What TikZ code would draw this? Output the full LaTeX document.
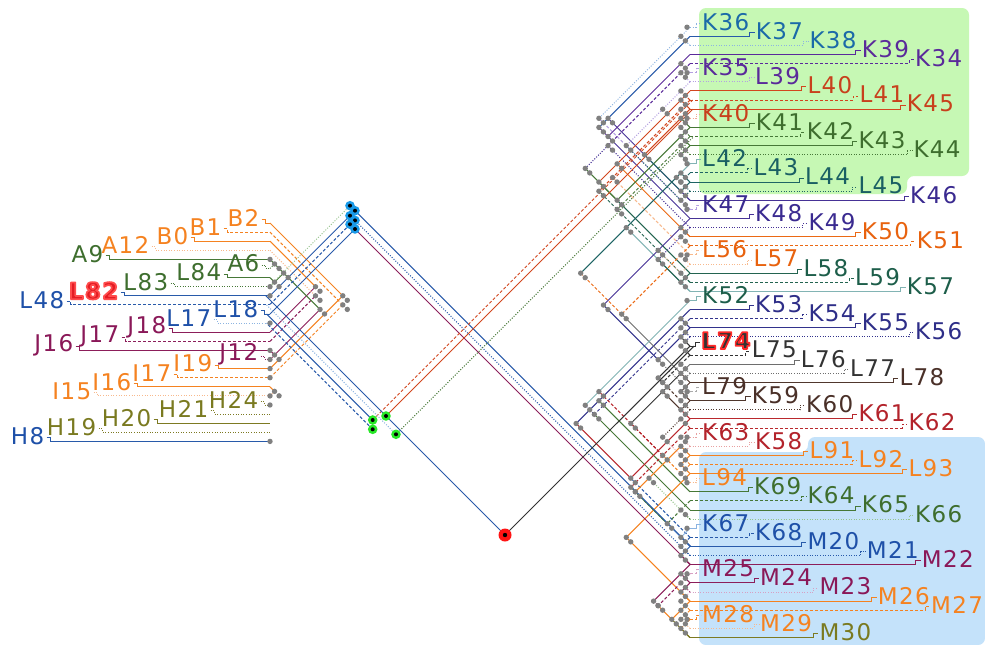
\documentclass[tikz,border=0pt]{standalone}
\usepackage{fontspec}
\setmainfont{DejaVu Sans}
\newfontfamily\labfont{DejaVu Sans}[LetterSpace=6]
\usetikzlibrary{calc}
\pgfdeclarelayer{bg}\pgfdeclarelayer{lines}\pgfdeclarelayer{dots}
\pgfsetlayers{bg,lines,dots,main}
% text colours
\definecolor{tBl}{RGB}{27,106,168}\definecolor{tPu}{RGB}{90,42,154}
\definecolor{tRd}{RGB}{200,64,28}\definecolor{tGn}{RGB}{62,110,46}
\definecolor{tTe}{RGB}{26,95,99}\definecolor{tIn}{RGB}{58,42,144}
\definecolor{tOr}{RGB}{232,98,14}\definecolor{tTg}{RGB}{29,94,74}
\definecolor{tNv}{RGB}{46,46,136}\definecolor{tDk}{RGB}{51,51,51}
\definecolor{tBr}{RGB}{74,48,40}\definecolor{tCr}{RGB}{179,35,43}
\definecolor{tOa}{RGB}{245,130,32}\definecolor{tBl2}{RGB}{30,80,168}
\definecolor{tMa}{RGB}{138,24,88}\definecolor{tOl}{RGB}{122,122,32}
\definecolor{tHr}{RGB}{228,28,36}
% line colours
\definecolor{cBl}{RGB}{40,90,170}\definecolor{cLb}{RGB}{140,180,225}
\definecolor{cPu}{RGB}{90,42,154}\definecolor{cLp}{RGB}{180,160,225}
\definecolor{cRd}{RGB}{210,70,30}\definecolor{cLr}{RGB}{240,170,150}
\definecolor{cGn}{RGB}{70,120,55}\definecolor{cLg}{RGB}{150,195,140}
\definecolor{cTe}{RGB}{30,100,100}\definecolor{cLt}{RGB}{130,180,180}
\definecolor{cIn}{RGB}{70,50,150}\definecolor{cOr}{RGB}{235,105,20}
\definecolor{cLo}{RGB}{248,185,140}\definecolor{cTg}{RGB}{35,100,80}
\definecolor{cNv}{RGB}{50,50,140}\definecolor{cDk}{RGB}{50,50,50}
\definecolor{cGy}{RGB}{110,110,110}\definecolor{cBr}{RGB}{80,55,45}
\definecolor{cLgr}{RGB}{170,170,170}\definecolor{cCr}{RGB}{185,40,45}
\definecolor{cLc}{RGB}{232,160,160}\definecolor{cOa}{RGB}{245,130,32}
\definecolor{cMa}{RGB}{140,30,90}\definecolor{cLm}{RGB}{215,160,195}
\definecolor{cOl}{RGB}{125,122,34}\definecolor{cDot}{RGB}{128,128,128}
\definecolor{bgG}{RGB}{198,248,180}\definecolor{bgB}{RGB}{196,226,250}
\definecolor{dotB}{RGB}{26,154,232}\definecolor{dotG}{RGB}{40,232,40}
\definecolor{dotR}{RGB}{255,20,20}
% plain label / glowing labels (glow = coloured outline stroke of the glyphs)
\newcommand\glownone[1]{#1}
\newcommand\glowR[1]{{\bfseries\special{pdf:literal direct 2 Tr 1.7 w 1 j 1 0.16 0.16 RG}#1\special{pdf:literal direct 0 Tr 0.4 w 0 j 0 0 0 RG}}}
\newcommand\glowL[1]{{\bfseries\special{pdf:literal direct 2 Tr 1.7 w 1 j 1 0.3 0.3 RG}#1\special{pdf:literal direct 0 Tr 0.4 w 0 j 0 0 0 RG}}}
% right-side join: node to the left of two children
\newcommand\RJ[5]{%
\path let \p1=(#2),\p2=(#3),\n1={(\y1-\y2+\x1-\x2)/2} in coordinate (#1) at ({\x1-\n1*1pt},{\y1-\n1*1pt});
\begin{pgfonlayer}{lines}\draw[#4] (#2) -- (#1);\draw[#5] (#3) -- (#1);\end{pgfonlayer}
\begin{pgfonlayer}{dots}\fill[gdot] (#1) circle (2.7pt);\fill[gdot] ([shift={(4.5pt,-4.5pt)}]#1) circle (2.7pt);\end{pgfonlayer}}
% left-side join: node to the right of two children
\newcommand\LJ[5]{%
\path let \p1=(#2),\p2=(#3),\n1={(\y1-\y2+\x2-\x1)/2} in coordinate (#1) at ({\x1+\n1*1pt},{\y1-\n1*1pt});
\begin{pgfonlayer}{lines}\draw[#4] (#2) -- (#1);\draw[#5] (#3) -- (#1);\end{pgfonlayer}
\begin{pgfonlayer}{dots}\fill[gdot] (#1) circle (2.7pt);\fill[gdot] ([shift={(4.5pt,-4.5pt)}]#1) circle (2.7pt);\end{pgfonlayer}}
\begin{document}
\begin{tikzpicture}[x=1pt,y=-1pt,
  sl/.style={line width=1pt},
  dsl/.style={line width=1pt,dash pattern=on 3pt off 2pt},
  dtl/.style={line width=1pt,dash pattern=on 1pt off 1.6pt},
  gdot/.style={fill=cDot},
  lab/.style={inner sep=0pt,font=\labfont\fontsize{23}{25}\selectfont}]
\useasboundingbox (0,0) rectangle (985,645);
\begin{pgfonlayer}{bg}
\fill[white] (0,0) rectangle (985,645);
\fill[bgG,rounded corners=7pt] (699,8) -- (969,8) -- (969,176) -- (907,176) -- (907,194) -- (699,194) -- cycle;
\fill[bgB,rounded corners=7pt] (699,452) -- (808,452) -- (808,437) -- (985,437) -- (985,645) -- (699,645) -- cycle;
\end{pgfonlayer}
% ---------------- right labels
\foreach \nm/\xx/\tc/\lp/\lcc/\hcc [count=\i from 0] in {
K36/702/tBl/dtl/cLb/none, K37/755.7/tBl/sl/cBl/none, K38/809.3/tBl/dtl/cLb/none,
K39/861.7/tPu/sl/cPu/none, K34/915/tPu/dsl/cPu/none,
K35/702/tPu/dsl/cLp/none, L39/755/tPu/dtl/cLp/none, L40/807.3/tRd/sl/cRd/none,
L41/859.3/tRd/dsl/cRd/none, K45/906.7/tRd/sl/cRd/none,
K40/702/tRd/dtl/cLr/none, K41/755.7/tGn/sl/cGn/none, K42/806.7/tGn/dsl/cGn/none,
K43/858.3/tGn/sl/cGn/none, K44/913.3/tGn/dtl/cGn/none,
L42/702/tTe/sl/cLt/none, L43/753.3/tTe/dsl/cTe/none, L44/805/tTe/sl/cTe/none,
L45/858.3/tTe/dtl/cTe/none, K46/910/tIn/sl/cIn/none,
K47/702/tIn/dsl/cLp/none, K48/755/tIn/sl/cIn/none, K49/808.3/tIn/dtl/cIn/none,
K50/861.7/tOr/sl/cOr/none, K51/916.7/tOr/dsl/cOr/none,
L56/702/tOr/dsl/cLo/none, L57/753.3/tOr/dtl/cLo/none, L58/803.3/tTg/sl/cTg/none,
L59/855/tTg/dsl/cTg/none, K57/906.7/tTg/sl/cLt/none,
K52/702/tTg/sl/cLt/none, K53/755/tNv/sl/cNv/none, K54/808.3/tNv/dsl/cNv/none,
K55/861.7/tNv/sl/cNv/none, K56/915/tNv/dtl/cNv/none,
L74/701/tDk/sl/cDk/R, L75/751.7/tDk/dsl/cDk/none, L76/800.7/tDk/sl/cGy/none,
L77/850/tDk/dtl/cGy/none, L78/899.3/tBr/sl/cBr/none,
L79/702/tBr/dsl/cLgr/none, K59/751.7/tBr/sl/cBr/none, K60/806/tBr/dtl/cBr/none,
K61/858.3/tCr/sl/cCr/none, K62/908.3/tCr/dsl/cCr/none,
K63/702/tCr/dtl/cLc/none, K58/755/tCr/dtl/cLc/none, L91/809.3/tOa/sl/cOa/none,
L92/858.3/tOa/dsl/cOa/none, L93/908.3/tOa/sl/cOa/none,
L94/702/tOa/dtl/cLo/none, K69/754/tGn/sl/cGn/none, K64/807.3/tGn/dsl/cGn/none,
K65/861.7/tGn/sl/cGn/none, K66/915/tGn/dtl/cLg/none,
K67/702/tBl2/sl/cLb/none, K68/755/tBl2/dsl/cBl/none, M20/807.3/tBl2/sl/cBl/none,
M21/866.7/tBl2/dtl/cBl/none, M22/921.7/tMa/sl/cMa/none,
M25/702/tMa/dsl/cLm/none, M24/760/tMa/sl/cMa/none, M23/819.3/tMa/dtl/cLm/none,
M26/877.7/tOa/sl/cOa/none, M27/931/tOa/dsl/cOa/none,
M28/702/tOa/dsl/cOa/none, M29/760/tOa/dtl/cLo/none, M30/819.3/tOl/sl/cOl/none}
{
  \coordinate (ra\i) at (690,{27.2+9.11*\i});
  \node[lab,anchor=west,text=\tc] (r\nm) at (\xx,{21.7+9.11*\i}) {\csname glow\hcc\endcsname{\nm}};
  \begin{pgfonlayer}{lines}
  \draw[\lp,\lcc] (ra\i) -| ([shift={(-6pt,-1.5pt)}]r\nm.west) -- ([shift={(-1pt,-1.5pt)}]r\nm.west);
  \end{pgfonlayer}
}
% ---------------- left labels
\foreach \nm/\xx/\tc/\lp/\lcc/\hcc [count=\j from 0] in {
B2/258/tOa/sl/cOa/none, B1/220/tOa/dsl/cOa/none, B0/187/tOa/sl/cOa/none,
A12/148/tOa/dtl/cLo/none, A9/102/tGn/sl/cGn/none,
A6/258/tGn/dtl/cGn/none, L84/220/tGn/sl/cGn/none, L83/167/tGn/dtl/cGn/none,
L82/117/tHr/sl/cBl/L, L48/63/tBl2/dsl/cBl/none,
L18/257/tBl2/sl/cBl/none, L17/210/tBl2/dtl/cLb/none, J18/165/tMa/sl/cMa/none,
J17/118/tMa/dsl/cMa/none, J16/72/tMa/sl/cMa/none,
J12/257/tMa/dtl/cMa/none, I19/211/tOa/sl/cOa/none, I17/170/tOa/dsl/cOa/none,
I16/130/tOa/sl/cOa/none, I15/90/tOa/dtl/cLo/none,
H24/257/tOl/dtl/cOl/none, H21/207/tOl/dtl/cOl/none, H20/150/tOl/sl/cOl/none,
H19/95/tOl/dtl/cOl/none, H8/43/tBl2/sl/cBl/none}
{
  \coordinate (la\j) at (270,{223+9.1*\j});
  \node[lab,anchor=east,text=\tc] (l\nm) at ({\xx+1.5},{218+9.1*\j}) {\csname glow\hcc\endcsname{\nm}};
  \begin{pgfonlayer}{lines}
  \draw[\lp,\lcc] ([shift={(2pt,-1.5pt)}]l\nm.east) -- ([shift={(6pt,-1.5pt)}]l\nm.east) |- (la\j);
  \end{pgfonlayer}
}
% ---------------- right web
\RJ{ja1}{ra0}{ra2}{dtl,cLb}{dtl,cLb}
\RJ{ja2}{ra1}{ra19}{sl,cBl}{sl,cIn}
\RJ{ja3}{ja1}{ra20}{dtl,cLb}{dsl,cLp}
\RJ{jb1}{ra3}{ra5}{sl,cPu}{dsl,cLp}
\RJ{jb2}{ra4}{ra6}{dsl,cPu}{dtl,cLp}
\RJ{jb3}{jb1}{ra21}{sl,cPu}{sl,cIn}
\RJ{jb4}{jb2}{ra22}{dsl,cPu}{dtl,cIn}
\RJ{jc1}{ra7}{ra9}{sl,cRd}{sl,cRd}
\RJ{jc2}{ra8}{ra10}{dsl,cRd}{dtl,cLr}
\RJ{jc3}{jc1}{ra23}{sl,cRd}{sl,cOr}
\RJ{jc4}{jc2}{ra25}{dsl,cRd}{dsl,cLo}
\RJ{jc5}{ra24}{ra26}{dsl,cOr}{dtl,cLo}
\RJ{jd1}{ra11}{ra13}{sl,cGn}{sl,cGn}
\RJ{jd2}{ra12}{ra14}{dsl,cGn}{dtl,cGn}
\RJ{jd3}{ra15}{ra17}{sl,cLt}{sl,cTe}
\RJ{jd4}{ra16}{ra18}{dsl,cTe}{dtl,cTe}
\RJ{jd5}{jd1}{ra27}{sl,cGn}{sl,cTg}
\RJ{jd6}{jd2}{ra28}{dsl,cGn}{dsl,cTg}
\RJ{jd7}{jd3}{jd4}{sl,cTe}{dsl,cTe}
\RJ{jd8}{jd7}{ra29}{sl,cTe}{sl,cLt}
\RJ{je1}{ra31}{ra33}{sl,cNv}{sl,cNv}
\RJ{je2}{ra32}{ra34}{dsl,cNv}{dtl,cNv}
\RJ{je3}{je1}{ra51}{sl,cNv}{sl,cGn}
\RJ{je4}{je2}{ra53}{dsl,cNv}{sl,cGn}
\RJ{jf1}{ra36}{ra38}{dsl,cDk}{dtl,cGy}
\RJ{jf2}{ra37}{ra39}{sl,cGy}{sl,cBr}
\RJ{jf3}{ra40}{ra42}{dsl,cLgr}{dtl,cBr}
\RJ{jf4}{ra41}{ra43}{sl,cBr}{sl,cCr}
\RJ{jf5}{jf1}{jf3}{dsl,cDk}{dsl,cBr}
\RJ{jf6}{jf2}{jf4}{sl,cDk}{sl,cBr}
\RJ{jf7}{ra35}{jf5}{sl,cDk}{sl,cDk}
\RJ{jg1}{ra44}{ra46}{dsl,cCr}{dtl,cLc}
\RJ{jg2}{ra45}{ra47}{dtl,cLc}{sl,cOa}
\RJ{jg3}{ra48}{ra50}{dsl,cOa}{dtl,cLo}
\RJ{jg4}{ra49}{ra63}{sl,cOa}{sl,cOa}
\RJ{jg5}{jg1}{jg3}{dsl,cCr}{dsl,cOa}
\RJ{jg6}{jg2}{ra54}{sl,cOa}{dtl,cLg}
\RJ{jg7}{ra43}{ra56}{sl,cCr}{dsl,cBl}
\RJ{jh2}{ra52}{ra54}{dsl,cGn}{dtl,cGn}
\RJ{jh3}{ra55}{ra57}{sl,cLb}{sl,cBl}
\RJ{jh4}{ra60}{ra62}{dsl,cLm}{dtl,cMa}
\RJ{jh5}{ra59}{ra61}{sl,cMa}{sl,cMa}
\RJ{jh6}{ra63}{ra65}{sl,cOa}{dsl,cOa}
\RJ{jh7}{ra64}{ra66}{dsl,cOa}{dtl,cLo}
\RJ{jh8}{jh6}{ra67}{sl,cOa}{sl,cOl}
\RJ{jh10}{jh2}{jh3}{dsl,cGn}{sl,cLb}
\RJ{jh11}{jh4}{jh8}{dsl,cMa}{sl,cOa}
\RJ{jx1}{jc5}{jf2}{dsl,cOr}{sl,cGy}
\RJ{jx3}{jb4}{jd5}{dtl,cIn}{sl,cGn}
\RJ{jx4}{jg5}{jh10}{dsl,cCr}{sl,cGn}
\RJ{jx6}{ra30}{jg5}{sl,cLt}{dsl,cCr}
\RJ{jy1}{ja2}{jb3}{sl,cBl}{sl,cPu}
\RJ{jy2}{jc3}{jd5}{sl,cRd}{sl,cGn}
\RJ{jy3}{jc4}{jd6}{dsl,cRd}{dsl,cTg}
\RJ{jy4}{jd8}{jx1}{sl,cTe}{dsl,cOr}
\RJ{jy5}{ra56}{ra58}{dsl,cBl}{dtl,cBl}
\RJ{jy6}{jf6}{jg5}{sl,cDk}{dsl,cCr}
\RJ{jy8}{jh5}{jh11}{sl,cMa}{dsl,cMa}
\RJ{jy10}{jg6}{jh10}{sl,cOa}{dsl,cGn}
\RJ{jy12}{jx6}{je4}{sl,cLt}{dsl,cNv}
\RJ{jy13}{je3}{jg7}{sl,cNv}{sl,cCr}
\RJ{jz1}{ra21}{ra23}{sl,cIn}{sl,cOr}
\RJ{jz2}{ra22}{ra24}{dtl,cIn}{dsl,cOr}
\RJ{jz3}{ra26}{ra28}{dtl,cLo}{dsl,cTg}
\RJ{jz4}{ra27}{ra29}{sl,cTg}{sl,cLt}
\RJ{jz5}{jz1}{jz3}{sl,cIn}{dtl,cLo}
\RJ{jz6}{jz2}{jz4}{dtl,cIn}{sl,cTg}
\RJ{jz8}{ra33}{ra35}{sl,cNv}{sl,cDk}
\RJ{jz9}{ra34}{ra36}{dtl,cNv}{dsl,cDk}
\RJ{jz10}{ra38}{ra40}{dtl,cGy}{dsl,cLgr}
\RJ{jz11}{ra39}{ra41}{sl,cBr}{sl,cBr}
\RJ{jz12}{ra42}{ra44}{dtl,cBr}{dsl,cCr}
\RJ{jz13}{ra46}{ra48}{dtl,cLc}{dsl,cOa}
\RJ{jz14}{ra47}{ra49}{sl,cOa}{sl,cOa}
\RJ{jz15}{ra57}{ra59}{sl,cBl}{sl,cMa}
\RJ{jz16}{ra61}{ra63}{sl,cMa}{sl,cOa}
\RJ{jz17}{ra62}{ra64}{dtl,cLm}{dsl,cOa}
\RJ{jz18}{ra65}{ra67}{dsl,cOa}{sl,cOl}
\RJ{jz19}{jz8}{jz10}{sl,cNv}{dtl,cGy}
\RJ{jz20}{jz12}{jz13}{dtl,cBr}{dtl,cLc}
\RJ{jz21}{jz5}{jz19}{sl,cIn}{sl,cNv}
\RJ{jz22}{ra6}{ra8}{dtl,cLp}{dsl,cRd}
\RJ{jz23}{ra9}{ra11}{sl,cRd}{sl,cGn}
\RJ{jz24}{ra10}{ra12}{dtl,cLr}{dsl,cGn}
\RJ{jz25}{ra13}{ra15}{sl,cGn}{sl,cLt}
\RJ{jz26}{ra17}{ra19}{sl,cTe}{sl,cIn}
\RJ{jz27}{ra18}{ra20}{dtl,cTe}{dsl,cLp}
\RJ{jz28}{jz22}{jz24}{dtl,cLp}{dtl,cLr}
\RJ{jz29}{jz23}{jz26}{sl,cRd}{sl,cTe}
\RJ{jz30}{jz28}{jz27}{dtl,cLp}{dtl,cTe}
% ---------------- left web
\LJ{ka1}{la0}{la16}{sl,cOa}{sl,cOa}
\LJ{ka2}{la1}{la17}{dsl,cOa}{dsl,cOa}
\LJ{ka3}{la2}{la12}{sl,cOa}{sl,cMa}
\LJ{ka4}{la3}{la13}{dtl,cLo}{dsl,cMa}
\LJ{ka5}{la4}{la5}{sl,cGn}{dtl,cGn}
\LJ{ka6}{la6}{la7}{sl,cGn}{dtl,cLg}
\LJ{ka7}{ka5}{ka6}{sl,cGn}{sl,cGn}
\LJ{ka8}{la14}{la15}{sl,cMa}{dtl,cMa}
\LJ{ka9}{la18}{la19}{sl,cOa}{dtl,cLo}
\LJ{ka10}{ka7}{ka8}{sl,cGn}{sl,cMa}
% ---------------- clusters and long lines
\coordinate (root) at (505,535);
\coordinate (b1) at (350,205.7);\coordinate (b2) at (355,210.7);
\coordinate (b3) at (350,215.7);\coordinate (b4) at (355,220.4);
\coordinate (b5) at (350,224.3);\coordinate (b6) at (355,229);
\coordinate (g1) at (372.7,420);\coordinate (g2) at (386,416);
\coordinate (g3) at (372.7,429.3);\coordinate (g4) at (396,434.3);
\coordinate (eM20) at (690.8,546.5);\coordinate (eM21) at (690.2,555.6);
\coordinate (eM22) at (690.7,564.7);\coordinate (eL41) at (692.6,100.1);
\coordinate (eK45) at (692.8,109.2);\coordinate (eK42) at (693.8,136.5);
\coordinate (eL74) at (694,346.05);
\coordinate (eL83) at (269,286.7);\coordinate (eL82) at (269.9,295.8);
\coordinate (eL48) at (269.4,304.9);\coordinate (eL18) at (270,314);
\coordinate (fL18) at (266.7,314);\coordinate (fL17) at (266.5,323.1);
\coordinate (fL48) at (266.6,304.9);\coordinate (rL82) at (265.8,295.8);
\begin{pgfonlayer}{lines}
\draw[sl,cBl] (b2) -- (eM20);
\draw[dtl,cBl] (b4) -- (eM21);
\draw[sl,cMa] (b6) -- (eM22);
\draw[dtl,cLg] (b1) -- (eL83);
\draw[sl,cBl] (b3) -- (eL82);
\draw[dsl,cBl] (b5) -- (eL48);
\draw[sl,cBl] (b6) -- (eL18);
\draw[sl,cRd] (g2) -- (eK45);
\draw[dsl,cRd] (g1) -- (eL41);
\draw[dtl,cGn] (g4) -- (eK42);
\draw[sl,cBl] (g1) -- (fL18);
\draw[dsl,cBl] (g3) -- (fL17);
\draw[dtl,cLb] (g4) -- (fL48);
\draw[sl,cBl] (root) -- (rL82);
\draw[sl,cDk] (root) -- (eL74);
\end{pgfonlayer}
\begin{pgfonlayer}{dots}
\foreach \k in {4,7,8,11,14,15,16,17,19,20,24} {\fill[gdot] (la\k) circle (2.7pt);}
\foreach \k in {0,5,10,15,20,25,30,40,45,50,55,60,65} {\fill[gdot] ([xshift=-3pt]ra\k) circle (2.7pt);}
\foreach \c in {b1,b2,b3,b4,b5,b6} {\fill[dotB] (\c) circle (4.8pt);\fill[black] (\c) circle (2pt);}
\foreach \c in {g1,g2,g3,g4} {\fill[dotG] (\c) circle (4.8pt);\fill[black] (\c) circle (2pt);}
\fill[dotR] (root) circle (6.5pt);\fill[black] (root) circle (2.2pt);
\end{pgfonlayer}
\end{tikzpicture}
\end{document}
